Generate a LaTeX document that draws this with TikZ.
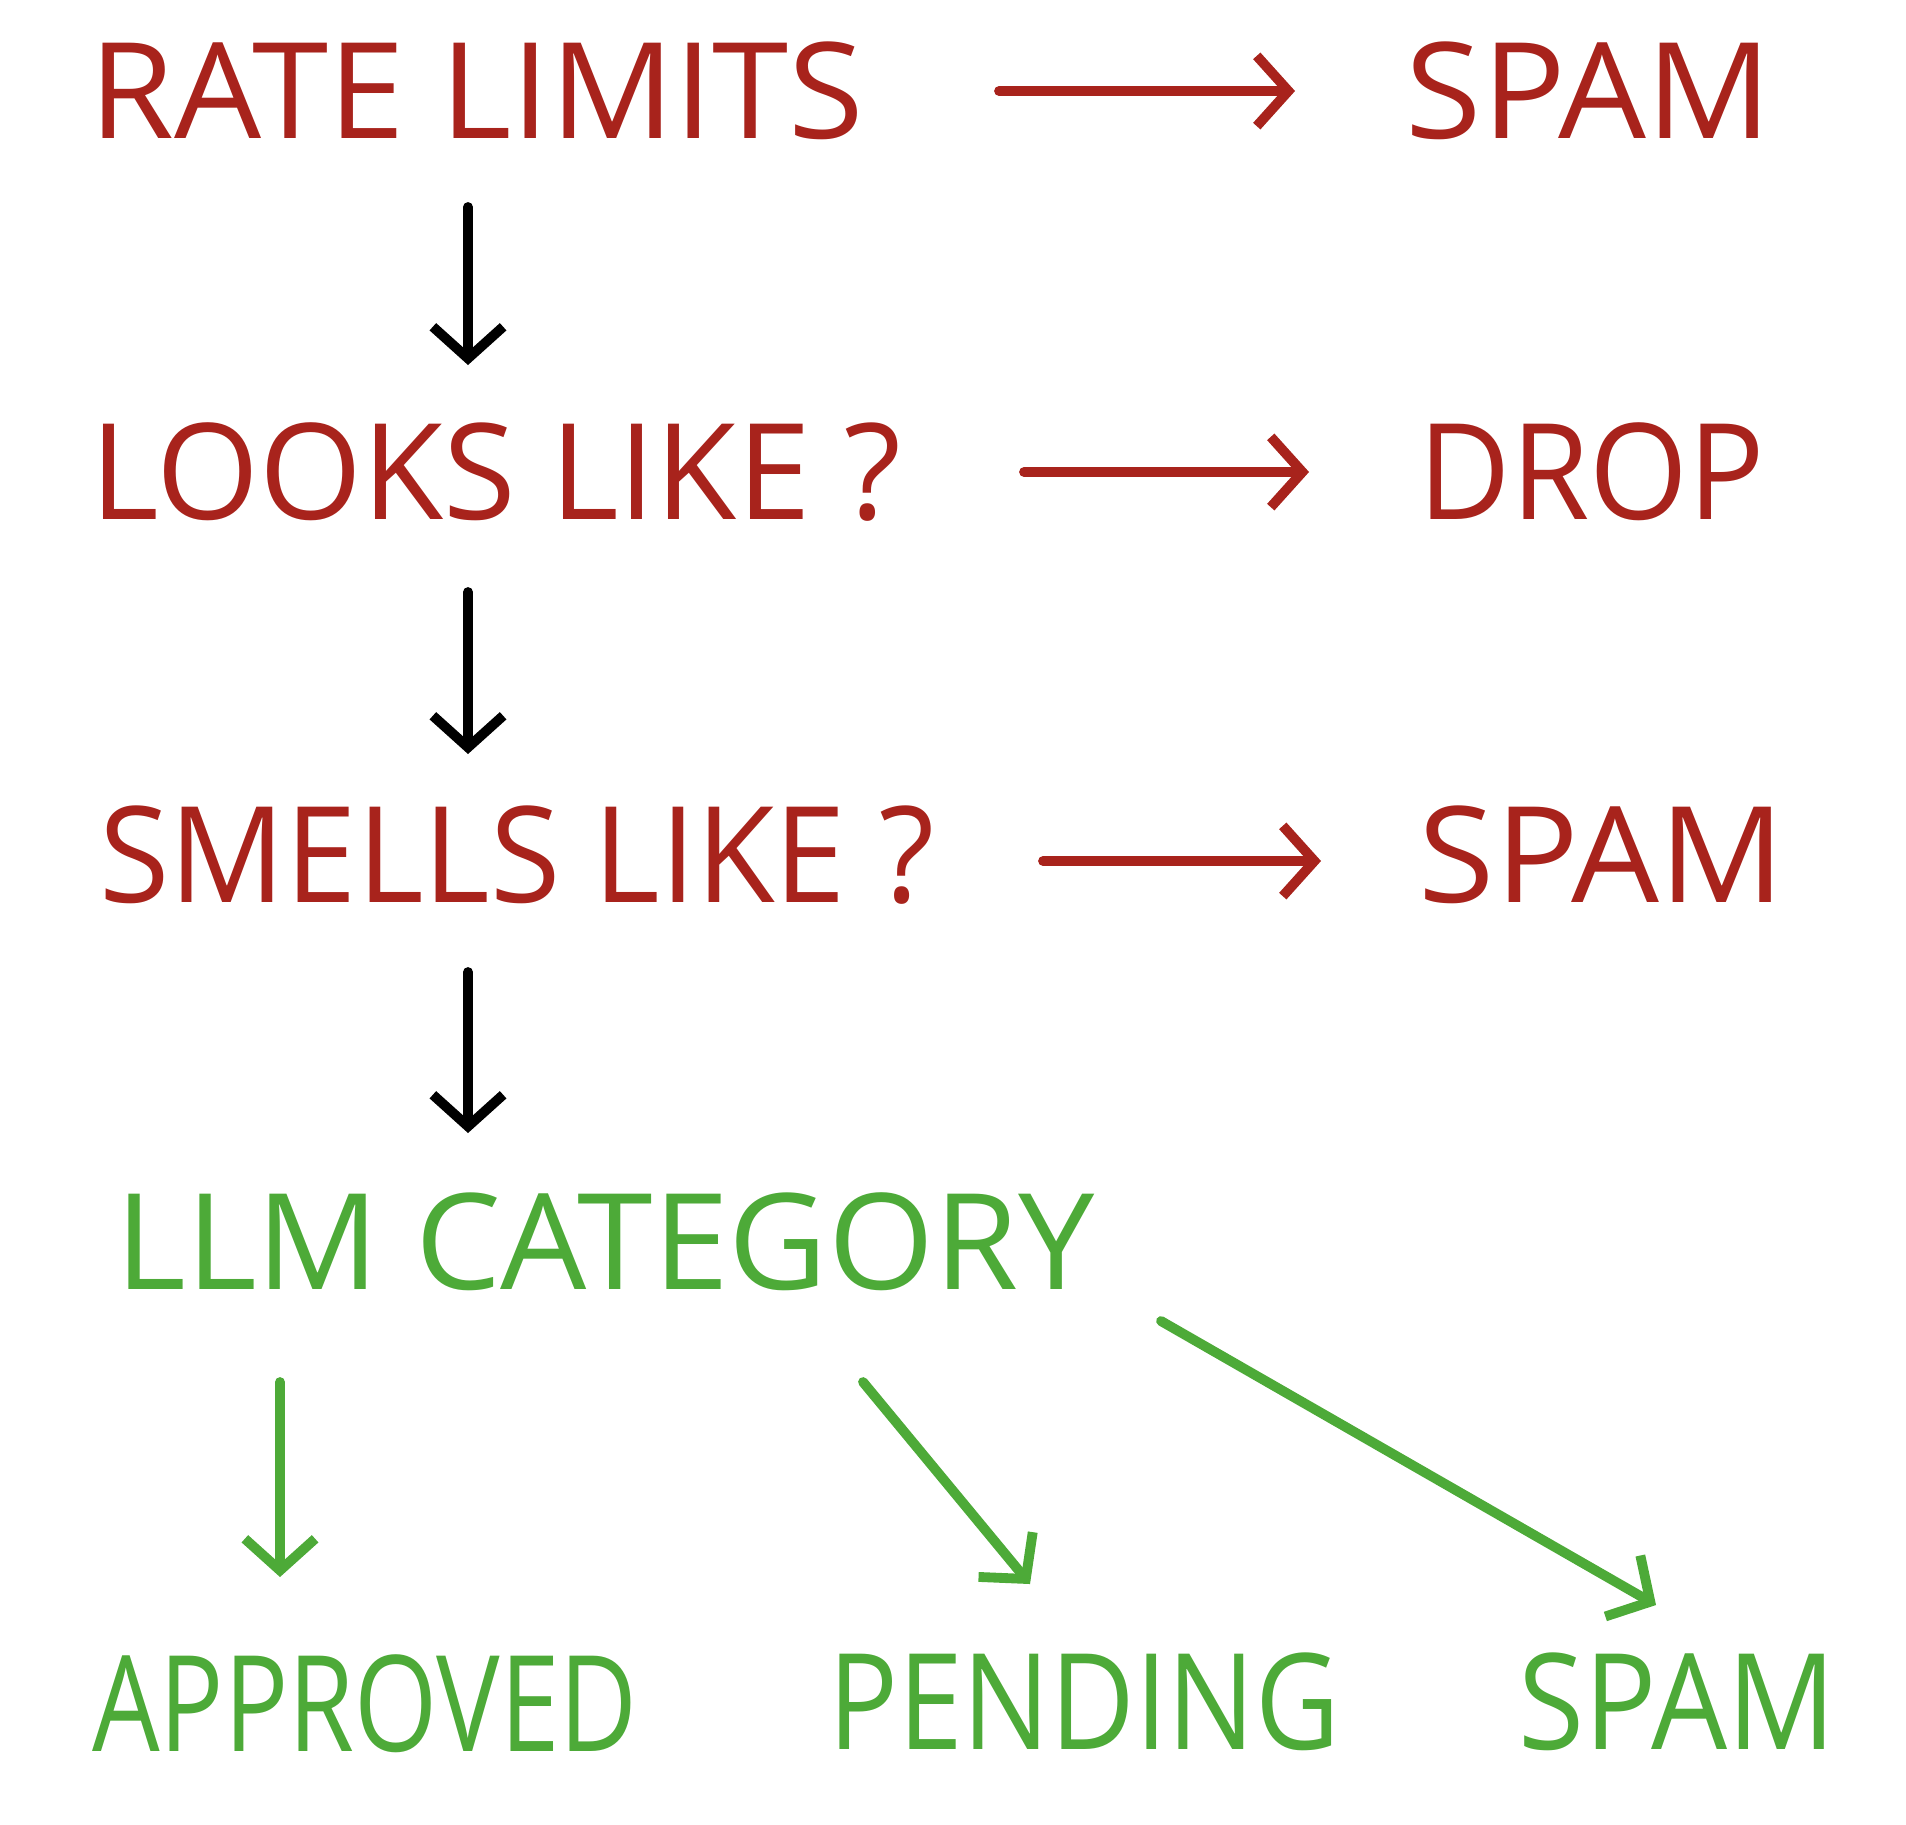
\documentclass[tikz,border=0pt]{standalone}
\usepackage{fontspec}
\setmainfont{Open Sans}
\usetikzlibrary{arrows.meta,positioning}
\definecolor{spamred}{HTML}{A8231C}
\definecolor{llmgreen}{HTML}{4DAA38}
\tikzset{
  lbl/.style = {inner sep=0pt, font=\fontsize{38}{38}\selectfont},
  red_t/.style = {lbl, text=spamred},% red text
  grn_t/.style = {lbl, text=llmgreen},% green text
  arr/.style = {line width=2.8pt, line cap=round,
    -{Straight Barb[length=9pt,width=20pt,line width=2.8pt]}},
  arr_r/.style = {arr, spamred},
  arr_k/.style = {arr, black},
  arr_g/.style = {arr, llmgreen}
}
\begin{document}
\begin{tikzpicture}[y=-1cm]
\useasboundingbox (0,0) rectangle (19.06,18.24);
% red rows
\node [red_t] (rate) at (4.77,0.91) {\scalebox{1.03}[1]{RATE LIMITS}};
\node [red_t] (spamA) at (15.89,0.91) {\scalebox{1.04}[1]{SPAM}};
\node [red_t] (looks) at (4.96,4.72) {\scalebox{0.99}[1]{LOOKS LIKE ?}};
\node [red_t] (drop) at (15.92,4.72) {\scalebox{0.95}[1]{DROP}};
\node [red_t] (smells) at (5.17,8.55) {\scalebox{0.96}[1]{SMELLS LIKE ?}};
\node [red_t] (spamB) at (16.02,8.55) {\scalebox{1.04}[1]{SPAM}};
% green rows
\node [grn_t] (llm) at (6.05,12.42) {\scalebox{1.02}[1]{LLM CATEGORY}};
\node [grn_t] (approved) at (3.65,17.04) {\scalebox{0.8}[1]{APPROVED}};
\node [grn_t] (pending) at (10.84,17.02) {\scalebox{0.87}[1]{PENDING}};
\node [grn_t] (spamC) at (16.77,17.02) {\scalebox{0.9}[1]{SPAM}};

\coordinate (r1) at (9.99,0.91);   \coordinate (r2) at (12.95,0.91);
\coordinate (l1) at (10.24,4.72);  \coordinate (l2) at (13.09,4.72);
\coordinate (s1) at (10.43,8.61);  \coordinate (s2) at (13.21,8.61);
\draw [arr_r] (r1) -- (r2);
\draw [arr_r] (l1) -- (l2);
\draw [arr_r] (s1) -- (s2);

\draw [arr_k] (4.68,2.07) -- (4.68,3.65);
\draw [arr_k] (4.68,5.92) -- (4.68,7.54);
\draw [arr_k] (4.68,9.72) -- (4.68,11.33);

\draw [arr_g] (2.80,13.82) -- (2.80,15.77);
\draw [arr_g] (8.63,13.82) -- (10.30,15.84);
\draw [arr_g] (11.61,13.21) -- (16.56,16.05);
\end{tikzpicture}
\end{document}
